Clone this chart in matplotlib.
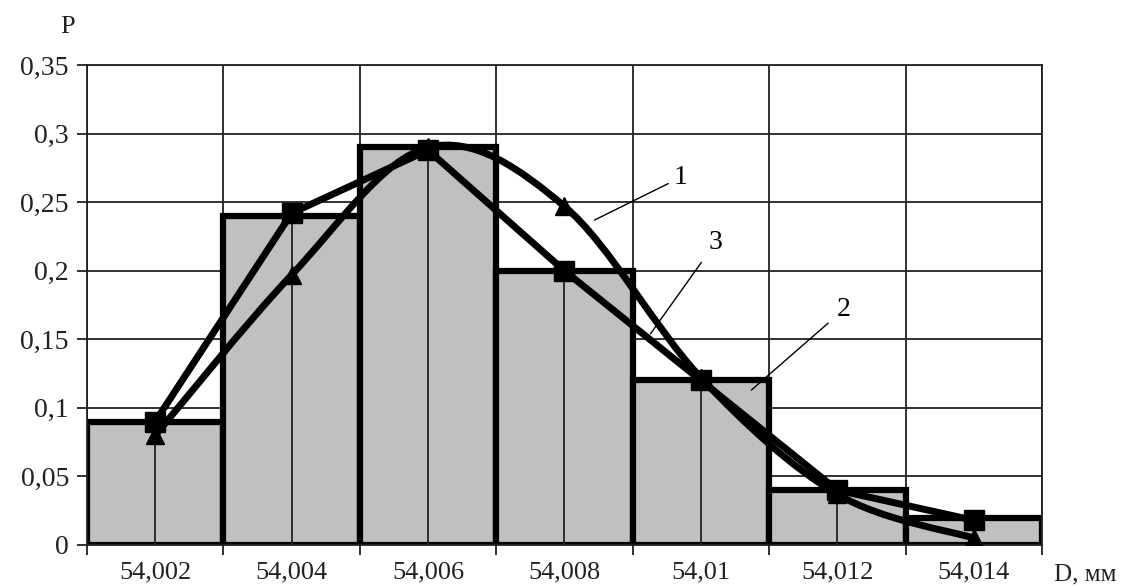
import matplotlib.pyplot as plt
from matplotlib.path import Path
from matplotlib.patches import PathPatch

plt.rcParams['font.family'] = ['Liberation Serif', 'DejaVu Serif']

# diameter classes, mm
d_labels = ['54,002', '54,004', '54,006', '54,008', '54,01', '54,012', '54,014']
# empirical frequencies (histogram)
freq = [0.09, 0.24, 0.29, 0.20, 0.12, 0.04, 0.02]
# polygon of frequencies (curve 3)
polygon = [0.09, 0.242, 0.288, 0.20, 0.12, 0.04, 0.018]
# theoretical distribution (curve 1)
theory = [0.08, 0.197, 0.29, 0.247, 0.122, 0.037, 0.005]

x = list(range(len(d_labels)))

fig = plt.figure(figsize=(11.43, 5.87), dpi=100)
ax = fig.add_axes([0.0761, 0.0716, 0.8355, 0.8174])

ax.set_xlim(-0.5, len(x) - 0.5)
ax.set_ylim(0, 0.35)

# grid
ax.set_yticks([i * 0.05 for i in range(8)])
ax.set_yticklabels(['0', '0,05', '0,1', '0,15', '0,2', '0,25', '0,3', '0,35'])
ax.set_xticks([i - 0.5 for i in range(len(x) + 1)])
ax.set_xticklabels([])
ax.set_xticks(x, minor=True)
ax.set_xticklabels(d_labels, minor=True)
ax.tick_params(axis='x', which='major', direction='out', length=7, width=1.3, color='#222222')
ax.tick_params(axis='x', which='minor', length=0, pad=12, labelsize=19, labelcolor='#222222')
ax.tick_params(axis='y', direction='out', length=7, width=1.3, color='#222222',
               labelsize=20, labelcolor='#222222', pad=6)
ax.grid(True, which='major', color='#222222', lw=1.3, zorder=0)
ax.set_axisbelow(True)
for s in ax.spines.values():
    s.set_color('#222222')
    s.set_linewidth(1.3)

# histogram bars
ax.bar(x, freq, width=1.0, color='#c0c0c0', edgecolor='black', linewidth=4.5, zorder=2)
ax.vlines(x, 0, freq, color='#222222', lw=1.3, zorder=3)

# curve 3: straight polygon with squares
ax.plot(x, polygon, color='black', lw=5, marker='s', markersize=14, zorder=5)

# curve 1: smoothed line through points with triangles
verts = [(x[0], theory[0])]
codes = [Path.MOVETO]
n = len(x)
for i in range(n - 1):
    p0 = (x[max(i - 1, 0)], theory[max(i - 1, 0)])
    p1 = (x[i], theory[i])
    p2 = (x[i + 1], theory[i + 1])
    p3 = (x[min(i + 2, n - 1)], theory[min(i + 2, n - 1)])
    c1 = (p1[0] + (p2[0] - p0[0]) / 6, p1[1] + (p2[1] - p0[1]) / 6)
    c2 = (p2[0] - (p3[0] - p1[0]) / 6, p2[1] - (p3[1] - p1[1]) / 6)
    verts += [c1, c2, p2]
    codes += [Path.CURVE4] * 3
ax.add_patch(PathPatch(Path(verts, codes), fill=False, edgecolor='black', lw=5, zorder=4))
ax.plot(x, theory, ls='none', color='black', marker='^', markersize=13, zorder=4)

# curve numbers with leader lines
ax.annotate('1', xy=(3.22, 0.237), xytext=(3.85, 0.268), fontsize=20,
            arrowprops=dict(arrowstyle='-', lw=1, color='black', shrinkA=2, shrinkB=0),
            ha='center', va='center')
ax.annotate('3', xy=(3.63, 0.154), xytext=(4.11, 0.221), fontsize=20,
            arrowprops=dict(arrowstyle='-', lw=1, color='black', shrinkA=6, shrinkB=0),
            ha='center', va='center')
ax.annotate('2', xy=(4.37, 0.113), xytext=(5.05, 0.172), fontsize=20,
            arrowprops=dict(arrowstyle='-', lw=1, color='black', shrinkA=6, shrinkB=0),
            ha='center', va='center')

fig.text(68 / 1143, 1 - 27 / 587, 'P', fontsize=19, ha='center', va='center', color='#222222')
fig.text(1085 / 1143, 1 - 574 / 587, 'D, мм', fontsize=18, ha='center', va='center', color='#222222')

fig.savefig('out.png', dpi=100)
